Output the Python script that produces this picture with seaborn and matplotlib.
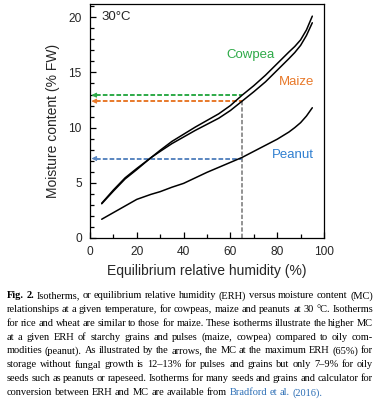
import numpy as np
import pandas as pd
import seaborn as sns
import matplotlib.pyplot as plt

# isotherm readings (ERH %, moisture content % FW)
erh = [5, 10, 15, 20, 26, 30, 35, 40, 45, 50, 55, 60, 65, 70, 75, 80, 85, 87.5, 90, 92.5, 95]
cowpea = [3.1, 4.25, 5.35, 6.2, 7.27, 7.95, 8.75, 9.4, 10.05, 10.65, 11.25, 12.0, 12.94, 13.8,
          14.75, 15.8, 16.85, 17.35, 17.95, 18.85, 20.1]
maize = [3.15, 4.35, 5.45, 6.3, 7.27, 7.85, 8.55, 9.15, 9.75, 10.3, 10.85, 11.55, 12.4, 13.25,
         14.15, 15.2, 16.25, 16.8, 17.45, 18.35, 19.5]
peanut = [1.7, 2.3, 2.9, 3.5, 3.95, 4.2, 4.6, 4.95, 5.45, 5.95, 6.4, 6.85, 7.3, 7.85,
          8.4, 8.95, 9.6, 10.0, 10.45, 11.05, 11.8]

crops = ["Cowpea", "Maize", "Peanut"]
crop_colors = ["#2eaa48", "#e8792a", "#5a86c0"]
label_colors = ["#2eaa48", "#e8792a", "#2f7fd0"]
label_x = [68.8, 88.3, 86.5]
label_y = [16.6, 14.15, 7.5]
erh_limit = 65
mc_at_limit = [12.94, 12.40, 7.2]

caption = [
    "Fig. 2. Isotherms, or equilibrium relative humidity (ERH) versus moisture content (MC)",
    "relationships at a given temperature, for cowpeas, maize and peanuts at 30 °C. Isotherms",
    "for rice and wheat are similar to those for maize. These isotherms illustrate the higher MC",
    "at a given ERH of starchy grains and pulses (maize, cowpea) compared to oily com-",
    "modities (peanut). As illustrated by the arrows, the MC at the maximum ERH (65%) for",
    "storage without fungal growth is 12–13% for pulses and grains but only 7–9% for oily",
    "seeds such as peanuts or rapeseed. Isotherms for many seeds and grains and calculator for",
    "conversion between ERH and MC are available from Bradford et al. (2016).",
]

df = pd.DataFrame({
    "erh": erh * 3,
    "mc": cowpea + maize + peanut,
    "crop": ["Cowpea"] * len(erh) + ["Maize"] * len(erh) + ["Peanut"] * len(erh),
})

sns.set_style("ticks")
plt.rcParams["font.family"] = ["Liberation Sans", "DejaVu Sans"]

fig = plt.figure(figsize=(3.79, 3.99), dpi=100)
ax = fig.add_axes([90 / 379, 161 / 399, 234 / 379, 234 / 399])

sns.lineplot(data=df, x="erh", y="mc", hue="crop", palette=["black"] * 3,
             legend=False, linewidth=1.1, ax=ax, zorder=3)

dash = (0, (2.4, 1.1))
ax.plot([erh_limit, erh_limit], [0, mc_at_limit[1]], color="#8a8a8a", lw=1.3, ls=dash, zorder=2)
for y, c in zip(mc_at_limit, crop_colors):
    ax.plot([2.5, erh_limit], [y, y], color=c, lw=1.4, ls=dash, zorder=2)
    ax.annotate("", xy=(0.6, y), xytext=(3.0, y),
                arrowprops=dict(arrowstyle="-|>", color=c, lw=0.8, mutation_scale=7,
                                shrinkA=0, shrinkB=0))

for name, x, y, c in zip(crops, label_x, label_y, label_colors):
    ax.text(x, y, name, color=c, fontsize=9.5, ha="center", va="center")
ax.text(5, 20.0, "30°C", fontsize=9.5, ha="left", va="center")

ax.set_xlim(0, 100)
ax.set_ylim(0, 21.2)
ax.set_xticks([0, 20, 40, 60, 80, 100])
ax.set_xticks([10, 30, 50, 70, 90], minor=True)
ax.set_yticks([0, 5, 10, 15, 20])
ax.set_yticks([y for y in range(0, 22) if y % 5], minor=True)
ax.tick_params(which="both", direction="in", bottom=True, left=True, top=False, right=False,
               labelsize=8.6, width=0.9, color="black")
ax.tick_params(which="major", length=4.5, pad=6)
ax.tick_params(which="minor", length=3)
for s in ax.spines.values():
    s.set_visible(True)
    s.set_linewidth(0.9)
    s.set_color("black")
ax.set_xlabel("Equilibrium relative humidity (%)", fontsize=10, labelpad=4)
ax.set_ylabel("Moisture content (% FW)", fontsize=10, labelpad=6)

# caption, justified line by line
renderer = fig.canvas.get_renderer()
left, right = 6.5, 373.0
line_y = [296, 310, 323.5, 337.3, 350.8, 364.7, 378.7, 392.7]
for i, (line, yp) in enumerate(zip(caption, line_y)):
    words = line.split(" ")
    texts = []
    for j, w in enumerate(words):
        bold = i == 0 and j < 2
        blue = i == 7 and j >= len(words) - 4
        t = fig.text(0, 1 - yp / 399, w, fontsize=7.5, family="Liberation Serif",
                     weight="bold" if bold else "normal",
                     color="#2a6db5" if blue else "black", va="center", ha="left")
        texts.append(t)
    widths = [t.get_window_extent(renderer).width for t in texts]
    total = sum(widths)
    if i < len(caption) - 1:
        gap = (right - left - total) / (len(words) - 1)
    else:
        gap = 2.6
    xp = left
    for t, wdt in zip(texts, widths):
        t.set_x(xp / 379)
        xp += wdt + gap

fig.savefig("out.png", dpi=100)
